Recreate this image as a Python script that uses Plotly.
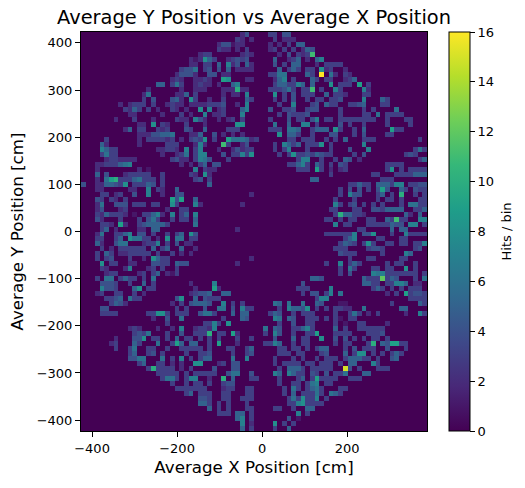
import numpy as np
import plotly.graph_objects as go

X_EDGE_LOW, X_BIN = -426.0, 11.0
Y_EDGE_TOP, Y_BIN = 423.0, 10.575
N_COLS, N_ROWS = 74, 80

# Sparse hit counts per row, top row first, written as "column:count".
left_rows = [
 "34:2 35:4",
 "33:3 34:2 36:2",
 "29:2 30:4 31:4 32:1 33:2 34:2",
 "29:3 30:2 31:2 33:2 35:3",
 "25:2 26:3 27:3 34:2 35:3 36:2",
 "23:2 24:1 25:2 26:8 27:5 28:3 31:2 32:3 33:4 34:3 35:4",
 "23:2 24:2 26:3 27:3 29:5 31:7 32:2 33:4 35:5 36:2",
 "21:3 22:4 23:4 24:6 26:3 27:4 29:4 31:5 33:2 34:2 35:2 36:2",
 "20:2 21:4 22:4 23:4 24:2 27:4 28:4 30:2 31:2",
 "19:2 20:3 21:2 24:2 25:2 26:3 27:2 30:9 31:8 35:2 36:2",
 "16:5 17:5 19:3 20:6 21:3 24:2 25:3 26:2 27:2 29:2 32:5 33:7",
 "14:2 21:2 24:2 25:2 26:2 30:2 31:2 32:2 33:10 34:2 35:2",
 "13:2 14:6 20:2 21:2 22:5 24:3 30:2 32:2 33:2 35:7",
 "13:3 15:4 19:4 20:5 21:2 23:8 24:3 27:2 30:3 35:5 36:3",
 "8:2 10:2 11:3 12:3 13:3 15:3 18:2 19:3 20:2 21:2 23:2 24:2 25:2 26:2 27:3 28:3 29:3 30:4 33:2 35:7",
 "9:3 10:2 11:5 12:3 14:3 16:2 19:3 20:2 22:2 25:8 27:7 29:2 30:3 34:5 35:7",
 "10:2 11:2 17:2 21:3 23:2 26:7 28:2 29:2 30:3 34:7",
 "7:2 11:3 15:2 20:3 21:2 22:2 24:7 25:4 26:2 29:2 31:2 32:3 34:3",
 "12:2 13:2 15:8 17:3 18:2 22:3 26:2 33:8 34:8",
 "9:2 10:5 12:3 13:3 16:3 17:2 18:3 22:4 23:3 26:5 31:3 32:3 33:3",
 "12:2 13:2 14:2 15:4 16:4 17:5 18:5 19:6 23:2 24:2 25:5 28:4 30:2 32:2 34:2",
 "5:3 12:2 14:3 15:3 16:3 17:3 18:2 19:3 21:2 23:3 24:4 25:3 26:8 28:3 31:9 32:6 33:6 34:6 35:5 36:2 37:2",
 "4:5 5:2 12:2 18:3 19:3 20:3 24:2 25:7 26:2 30:11 31:3 34:2 35:4",
 "4:7 5:5 6:3 7:3 16:2 17:2 18:3 19:3 20:2 22:7 24:3 25:7 29:2 32:2 33:4 34:2 35:3 36:3",
 "4:3 5:6 6:3 7:3 17:2 20:2 21:3 22:6 24:3 25:7 26:7 30:4 32:3 33:3 34:7 35:3 36:8",
 "5:2 6:3 7:3 8:2 9:2 10:2 11:2 19:3 20:4 21:2 22:2 24:3 25:7 26:6 27:4 31:3",
 "3:2 4:2 5:3 6:3 7:3 8:5 9:6 10:7 21:2 23:2 25:3 26:5 28:4 29:4",
 "3:2 12:2 14:1 24:7 26:3 27:2 28:2",
 "3:5 5:4 9:2 10:3 11:3 12:3 13:3 14:3 17:3 23:3 24:2 26:8 27:2",
 "3:2 5:6 6:9 7:10 8:3 9:3 10:3 11:5 12:6 13:3 14:3 15:3 17:3 24:3 25:4 27:3",
 "0:4 3:2 4:2 5:5 6:5 7:4 8:3 9:8 11:3 12:3 13:3 14:5 15:4 17:3 27:5",
 "3:2 4:2 10:2 11:2 14:7 16:3 17:2 20:5",
 "4:3 5:3 7:2 8:3 11:4 14:7 17:2 20:4 21:4 36:2",
 "3:4 4:3 6:3 7:2 9:3 19:9 20:4 21:9 24:5",
 "3:2 4:6 7:4 8:4 9:4 11:3 12:3 13:3 15:3 16:3 19:8 20:3 24:7 25:2 34:2",
 "3:2 4:4 8:2 9:3 18:2 21:3 22:3",
 "3:3 4:2 5:5 6:3 7:3 8:3 9:2 11:1 13:3 14:3 15:5 16:7 17:2 19:7 21:3 22:5 24:7",
 "3:4 4:2 8:3 12:3 14:4 15:6 16:3 19:3 21:3 22:3 24:5",
 "4:3 5:3 6:2 8:9 9:2 12:3 13:4 14:5 15:5 16:5 17:5 18:3 24:6",
 "4:3 5:5 7:2 12:2 13:2 15:5 16:5 33:2",
 "3:2 4:6 7:3 8:3 9:5 10:7 12:4 13:4 15:3 18:3 20:3 21:5 23:8 24:4",
 "3:3 4:3 7:3 8:5 10:8 11:6 12:6 13:3 14:3 16:2 18:8 20:6 21:6 23:3 24:3",
 "3:5 4:2 7:4 8:6 9:6 13:2 14:3 15:3 16:7 18:3 20:4 22:2 23:2",
 "4:3 6:2 8:3 9:3 10:3 11:3 12:3 13:3 15:5 17:3 18:5 21:5 24:2",
 "3:3 5:5 6:3 8:2 9:2 10:3 11:3 12:3 13:3 14:3 16:3 19:3 21:2 23:2",
 "3:3 5:3 6:4 10:3 13:2 15:8 16:5 17:3 18:3 36:2",
 "4:8 6:3 7:3 10:2 11:2 15:4 16:4 17:3 18:3 20:5 21:4 22:4 33:2",
 "4:3 5:2 9:2 10:7 14:2 15:3 17:3 20:3",
 "5:2 6:3 7:3 12:2 13:3 15:3 16:5 18:2 19:1 20:3",
 "3:3 5:6 6:6 8:3 9:5 10:3 11:3 13:3 15:6",
 "4:4 5:4 6:4 7:3 10:3 13:5 15:3 23:2 28:7",
 "4:7 5:4 6:4 7:3 11:5 12:8 14:3 15:3 24:2 28:9 29:2",
 "3:2 4:3 7:3 8:3 11:3 13:2 23:2 24:3 25:4 26:4 27:5 30:5 31:5",
 "5:3 6:3 7:4 8:5 10:6 11:3 12:3 20:4 21:8 24:5 26:4 27:3 28:3 29:3",
 "6:3 7:5 8:4 9:2 19:2 21:3 23:4 24:5 25:5 26:5 27:4 30:7 32:3 34:3",
 "4:4 5:4 20:3 22:3 26:4 29:6 30:6 32:4 34:7 35:3 36:3",
 "4:3 5:3 6:3 7:3 14:3 15:3 16:8 17:8 18:3 20:3 21:3 22:3 25:4 26:6 27:6 28:3 32:5 34:5 35:5",
 "15:2 18:4 21:6 30:3 34:5 35:4",
 "18:3 26:3 27:3 28:7 29:3 31:8",
 "10:2 11:3 12:2 16:2 19:2 21:7 24:2 25:3 26:3 27:2 28:7",
 "11:3 12:4 13:3 14:6 18:3 21:4 24:3 25:3 26:3 27:10 29:3 30:3 32:9 33:2",
 "7:2 11:4 12:4 13:8 15:3 16:3 18:3 20:5 22:3 23:3 25:3 27:3 29:3 33:3 36:3",
 "6:2 7:3 11:5 12:3 16:6 19:3 20:9 21:5 23:5 24:5 27:3 29:9 33:2",
 "7:3 10:3 11:6 14:3 15:3 18:3 21:3 22:3 23:3 24:3 25:3 27:3 31:3 32:3 35:3 36:5",
 "10:3 11:5 14:3 15:4 17:3 22:3 25:3 26:3 27:4 32:3 35:3 36:4",
 "10:4 11:4 12:6 13:6 17:6 19:3 21:7 23:3 25:3 26:5 27:5 32:6 35:7",
 "12:3 13:5 16:3 17:3 19:2 21:2 24:8 25:8 29:2 30:3 32:4 33:4",
 "14:3 15:10 16:3 17:3 18:3 19:3 21:2 23:3 28:4 32:4 33:4",
 "16:3 17:3 18:3 19:3 20:3 22:3 24:3 25:3 26:3 27:3 28:3 31:4 32:6 33:6 36:4",
 "17:3 18:6 19:6 20:3 22:3 23:7 24:7 27:2 30:10 32:5 36:3 37:3",
 "19:3 22:3 24:3 25:3 27:3 30:3 31:4 32:4",
 "20:3 21:3 22:3 23:3 24:3 25:3 26:3 30:2 31:3 32:3 35:3 36:3",
 "22:3 23:5 25:3 26:3 27:3 30:3 31:3 35:3 36:3",
 "25:4 26:4 27:3 30:3 31:3 34:3 35:3 36:3",
 "25:5 26:5 27:3 29:3 31:3 35:3",
 "27:5 29:3 31:3 35:3 36:3",
 "29:3 30:3 31:3 33:5 34:5 36:3",
 "33:5 34:7 36:3",
 "34:7 36:2",
 "34:5 36:3",
]

right_rows = [
 "40:3 41:3 43:4 44:4",
 "41:3 43:2 44:2 45:2",
 "40:2 42:2 44:3 46:5 47:5",
 "40:2 41:3 43:3 45:3 47:2 48:5 49:4",
 "42:2 44:4 46:3 47:2 48:3 49:11",
 "41:5 44:2 45:3 46:5 48:2 50:5 51:7",
 "41:4 43:3 45:5 46:5 50:2 52:3 53:3 54:3 55:3",
 "42:5 44:3 45:5 46:3 48:3 49:3 51:8 52:2 53:3 56:2",
 "40:3 41:3 42:6 43:6 48:5 49:3 51:16 53:6 54:2 56:3 57:2",
 "41:2 42:5 43:7 45:3 49:5 50:3 52:3 53:3 56:2 57:3 58:5",
 "41:3 42:5 43:5 44:3 45:3 46:7 47:5 49:5 53:8 55:3 56:3 57:3 59:9 61:3",
 "40:3 41:3 42:3 43:4 44:6 45:3 47:3 48:3 49:11 51:3 54:7 55:3 60:7 61:2",
 "41:8 43:3 45:4 47:3 48:3 49:3 52:5 54:3 55:3 56:2 60:3 61:3",
 "41:3 43:3 45:4 48:3 50:3 51:3 53:3 54:3 55:4 60:7 64:5 65:3",
 "42:3 45:7 49:3 50:4 52:5 53:3 54:3 57:3 58:3 59:4 60:5 64:3 65:3",
 "40:4 43:3 44:3 45:4 48:3 49:4 50:4 55:3 60:3 62:3 67:6",
 "42:3 44:4 45:3 46:3 47:3 48:4 55:3 60:3 61:3 63:6 65:3 66:3 67:3 68:3",
 "40:3 44:4 46:3 47:3 49:4 50:7 52:3 53:3 55:3 56:3 57:3 58:3 59:3 60:3 61:3 62:3 65:3 69:3 70:3",
 "41:6 44:5 47:7 48:7 50:3 55:4 57:3 60:3 65:3 70:3",
 "40:3 41:3 42:3 44:6 45:6 46:5 49:3 50:5 51:5 52:5 54:8 55:3 58:3 60:5 66:9 67:3 68:3",
 "42:8 44:5 45:5 46:3 49:3 53:4 54:4 58:3 60:4 65:3 66:3",
 "37:3 44:3 45:3 47:3 48:3 49:3 52:3 54:3 56:5 60:3 61:3 62:3 72:3",
 "41:3 43:7 44:5 45:3 46:5 48:3 49:3 50:3 51:8 53:3 60:7",
 "41:3 43:3 44:7 48:3 53:3 57:4 61:7 71:3 72:6 73:3",
 "42:3 44:3 45:8 46:3 47:3 48:4 49:3 50:5 51:4 52:3 53:3 58:3 60:4 69:3 70:4 71:3",
 "46:3 47:7 48:7 51:3 54:3 56:5 57:4 59:2 72:3 73:5",
 "44:3 45:3 46:5 47:7 48:3 50:5 51:3 53:3 55:4 56:3 65:3 66:3 67:3 68:3",
 "46:3 47:3 48:3 50:9 51:3 53:2 55:2 56:3 65:3 66:8 68:3 70:3 71:3 72:3 73:3",
 "53:3 62:3 63:3 67:3 68:3 69:3 70:3 71:5 72:5 73:5",
 "49:5 50:5 64:3 65:3 66:3",
 "57:3 58:3 59:5 60:3 61:3 63:5 64:5 65:5 66:3 67:7 68:7 70:3 71:3 72:4 73:4",
 "55:3 57:4 59:4 61:3 63:4 64:9 65:4 68:5 69:3 71:4 72:3 73:3",
 "55:3 57:7 58:4 59:4 63:3 64:5 66:3 68:10 71:3 73:3",
 "54:3 58:3 63:3 65:3 66:3 68:3 72:3 73:3",
 "54:7 55:3 57:3 58:4 60:3 62:3 64:3 68:3 70:6 71:6 72:3 73:3",
 "53:3 54:3 58:3 59:3 62:4 63:4 64:3 65:5 66:5 67:5 68:5 71:3 72:3 73:5",
 "54:3 55:10 56:5 57:5 58:3 59:3 60:2 69:5 70:2 72:5",
 "52:3 53:3 55:3 57:3 58:3 61:3 62:3 65:5 66:3 67:11 68:3 69:3 72:7 73:7",
 "54:7 56:3 57:3 61:3 62:3 63:3 64:3 65:3 66:5 67:4 68:4 70:7 71:7 73:3",
 "59:3 60:3 66:5 68:5 69:5",
 "52:3 53:3 54:3 55:3 56:3 57:3 58:7 60:4 61:4 62:8 66:3 69:7 70:3 71:3 72:3 73:3",
 "56:3 57:5 58:7 63:3 64:3 68:3 69:3",
 "55:3 56:5 57:4 58:3 60:3 61:8 62:3 65:3 66:3 68:3 69:3 71:3 72:3 73:7",
 "54:3 55:3 56:3 61:3 62:4 63:4 64:3 71:3 72:4",
 "55:4 56:3 57:3 58:3 64:3 69:7 70:5",
 "57:3 61:3 62:3 68:3 69:3",
 "52:3 55:7 57:3 58:5 59:3 65:3 67:3 68:3 71:3",
 "55:3 57:6 58:3 62:3 63:3 65:3 66:3 69:8 71:3",
 "55:3 57:4 62:7 63:6 64:7 65:3 66:3 67:3 68:3 69:3 70:3 71:3 73:3",
 "49:5 50:5 51:4 60:5 61:3 62:3 63:3 64:12 65:3 66:5 67:4 71:3 73:6",
 "47:4 60:5 61:5 62:3 63:3 65:3 66:3 67:7 68:7 69:5 71:2 72:2",
 "46:3 47:3 48:3 53:7 62:3 63:5 64:3 66:3 68:3 70:3 71:3 72:3",
 "47:3 49:4 50:4 52:3 53:7 55:6 65:2 67:3 69:9 70:3 71:4 72:4 73:3",
 "50:3 51:7 52:7 70:3 71:3 72:3 73:3",
 "41:6 42:5 44:6 47:6 50:5 51:4 55:1 56:1 66:3 72:5 73:3",
 "42:3 44:7 45:5 46:5 47:4 48:8 50:3 52:3 54:3 55:3 56:2 57:2 60:6 68:5 69:5",
 "40:3 41:5 42:4 45:3 47:3 48:3 49:3 54:3 57:3 58:6 59:3 61:2 63:3 69:2 72:7 73:3",
 "41:7 42:6 44:5 45:4 48:3 49:3 50:3 52:3 54:3 55:1 57:3 58:3",
 "42:3 45:4 48:3 49:3 54:3 56:1 59:3 60:3 65:2",
 "39:6 41:5 42:4 45:3 46:3 47:5 48:7 49:3 54:5 56:3 59:3 60:3 61:3 62:3 63:3 64:3",
 "39:3 41:7 42:4 45:3 48:3 49:3 50:9 54:3 55:3 56:3 57:3 61:3 62:3 63:3 64:4",
 "41:4 45:5 47:3 48:3 51:8 54:4 56:4 58:3 60:3 62:3 63:3 65:3",
 "39:3 40:3 41:7 42:5 45:3 47:3 48:3 54:3 56:3 57:3 61:3 62:10 64:5 65:4 66:9 67:9 68:3 69:3",
 "42:3 43:3 45:3 46:3 48:3 50:3 51:5 52:5 56:3 58:4 60:3 61:3 62:3 65:4 69:3",
 "42:3 43:3 44:3 46:3 47:3 51:3 52:4 56:5 58:3 59:8 60:8 62:3 64:3 66:3 67:5 68:3",
 "41:3 45:3 47:3 50:3 52:3 53:3 54:3 56:3 57:5 58:5 59:5 60:3 61:3 63:3 66:4 67:5",
 "41:3 43:3 44:3 45:3 46:3 48:3 49:3 51:3 52:3 53:3 55:3 57:5 58:5 62:7 63:3",
 "42:3 44:5 45:5 46:5 47:3 49:3 50:3 51:3 52:3 53:3 56:15 57:4 59:3 63:3 64:3 65:3",
 "41:7 42:5 44:7 45:5 46:3 47:3 49:4 50:3 52:4 54:3 55:3 56:6 60:5 61:5",
 "42:3 46:3 47:5 49:3 50:9 51:3 52:3 53:3 54:3 57:3 58:3 59:3",
 "42:3 45:3 46:3 48:3 49:6 50:7 52:3 53:3",
 "43:3 45:6 46:3 48:3 49:5 50:6 51:3 55:3 56:3",
 "43:3 45:5 47:3 48:3 49:3 50:6 51:3 53:6 54:5 55:3",
 "44:3 45:6 46:3 47:8 48:3 49:3 50:7 52:3",
 "44:3 45:3 46:7 47:8 48:3 49:3 50:3 51:3",
 "41:3 42:3 45:3 48:5 49:5",
 "46:7 48:3",
 "44:4 46:1",
 "41:8 43:3 45:3",
 "41:3 44:5",
]

# Assemble the 2D histogram from the sparse rows.
counts = np.zeros((N_ROWS, N_COLS))
for r, (left, right) in enumerate(zip(left_rows, right_rows)):
    for token in (left + " " + right).split():
        col, value = token.split(":")
        counts[r, int(col)] = int(value)

x_centers = X_EDGE_LOW + X_BIN * (np.arange(N_COLS) + 0.5)
y_centers = Y_EDGE_TOP - Y_BIN * (np.arange(N_ROWS) + 0.5)

fig = go.Figure(go.Heatmap(
    x=x_centers, y=y_centers, z=counts,
    colorscale="Viridis", zmin=0, zmax=16, xgap=0, ygap=0,
    colorbar=dict(
        x=1.0636, xanchor="left", y=0, yanchor="bottom", len=1, lenmode="fraction",
        thickness=21, thicknessmode="pixels", xpad=0, ypad=0,
        outlinecolor="#000", outlinewidth=1,
        tickvals=list(range(0, 17, 2)), ticks="outside", ticklen=5, tickcolor="#000",
        tickfont=dict(size=13, color="#000"),
    ),
))

axis_style = dict(
    showgrid=False, zeroline=False, showline=True, mirror=True,
    linecolor="#000", linewidth=1, ticks="outside", ticklen=5, tickcolor="#000",
    tickfont=dict(size=13, color="#000"),
)
fig.update_xaxes(
    range=[X_EDGE_LOW, X_EDGE_LOW + N_COLS * X_BIN],
    tickvals=[-400, -200, 0, 200], ticktext=["\u2212400", "\u2212200", "0", "200"],
    title=dict(text="Average X Position [cm]", font=dict(size=16.7, color="#000"), standoff=6),
    **axis_style,
)
fig.update_yaxes(
    range=[-Y_EDGE_TOP, Y_EDGE_TOP],
    tickvals=[-400, -300, -200, -100, 0, 100, 200, 300, 400],
    ticktext=["\u2212400", "\u2212300", "\u2212200", "\u2212100", "0", "100", "200", "300", "400"],
    title=dict(text="Average Y Position [cm]", font=dict(size=16.7, color="#000"), standoff=8),
    **axis_style,
)
# Colorbar caption sits further from the ticks than the built-in title allows.
fig.add_annotation(
    text="Hits / bin", textangle=-90, showarrow=False,
    xref="paper", yref="paper", x=1.231, y=0.5, xanchor="center", yanchor="middle",
    font=dict(size=13, color="#000"),
)
fig.update_layout(
    width=525, height=488,
    margin=dict(l=81, r=98, t=32, b=57, autoexpand=False),
    paper_bgcolor="#fff", plot_bgcolor="#fff",
    font=dict(family="DejaVu Sans", color="#000"),
    title=dict(text="Average Y Position vs Average X Position",
               font=dict(size=19.4, color="#000"),
               x=(81 + 173) / 525, xanchor="center", y=1 - 17 / 488, yanchor="middle"),
)
fig.write_html("out.html")
